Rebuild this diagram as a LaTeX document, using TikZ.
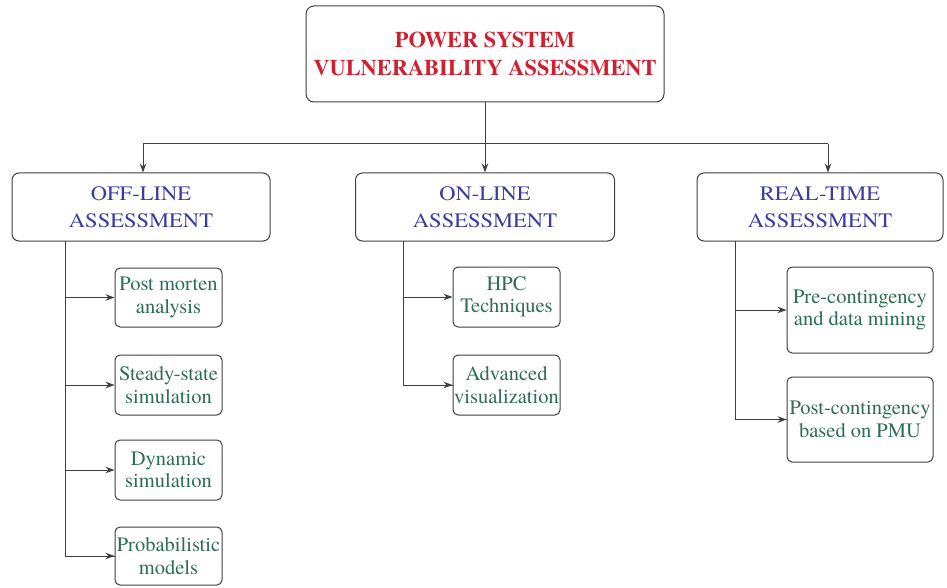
\documentclass[tikz,border=0pt]{standalone}
\usepackage{fontspec}
\setmainfont{TeX Gyre Termes}
\newfontfamily\headfont[FakeStretch=1.1]{TeX Gyre Termes}
\usetikzlibrary{arrows.meta}
\definecolor{titlered}{HTML}{D02030}
\definecolor{headblue}{HTML}{3C3CA0}
\definecolor{subgreen}{HTML}{2E6E52}
\definecolor{linegray}{HTML}{404040}
\tikzset{
  topbox/.style={draw=linegray, line width=1pt, rounded corners=8pt, minimum width=358pt, minimum height=96pt, inner sep=0pt, align=center, text=titlered, font=\fontsize{22.4}{27.5}\selectfont\bfseries},
  headbox/.style={draw=linegray, line width=1pt, rounded corners=7pt, minimum height=68pt, inner sep=0pt, align=center, text=headblue, font=\headfont\fontsize{20.5}{26.5}\selectfont},
  subbox/.style={draw=linegray, line width=1pt, rounded corners=5pt, inner sep=0pt, align=center, text=subgreen, font=\fontsize{20.5}{22.5}\selectfont},
  conn/.style={draw=linegray, line width=1pt},
  arr/.style={conn, -{Stealth[length=9pt,width=6.5pt]}}
}
\begin{document}
\begin{tikzpicture}[x=1pt,y=-1pt]
\useasboundingbox[fill=white] (0,0) rectangle (947,588);
% main boxes
\node[topbox] (top) at (485,54) {POWER SYSTEM\\VULNERABILITY ASSESSMENT};
\node[headbox, minimum width=258pt] (off) at (141,207) {OFF-LINE\\ASSESSMENT};
\node[headbox, minimum width=259pt] (on) at (485,207) {ON-LINE\\ASSESSMENT};
\node[headbox, minimum width=246pt] (rt) at (820,207) {REAL-TIME\\ASSESSMENT};
% off-line sub boxes
\node[subbox, minimum width=107pt, minimum height=59pt] (a1) at (168.5,297.5) {Post morten\\analysis};
\node[subbox, minimum width=107pt, minimum height=60pt] (a2) at (168.5,385) {Steady-state\\simulation};
\node[subbox, minimum width=107pt, minimum height=60pt] (a3) at (168.5,470) {Dynamic\\simulation};
\node[subbox, minimum width=107pt, minimum height=58pt] (a4) at (168.5,556) {Probabilistic\\models};
% on-line sub boxes
\node[subbox, minimum width=107pt, minimum height=60pt] (b1) at (506.5,297) {HPC\\Techniques};
\node[subbox, minimum width=107pt, minimum height=60pt] (b2) at (506.5,385) {Advanced\\visualization};
% real-time sub boxes
\node[subbox, minimum width=146pt, minimum height=86pt] (c1) at (860,310) {Pre-contingency\\and data mining};
\node[subbox, minimum width=146pt, minimum height=85pt] (c2) at (860,419.5) {Post-contingency\\based on PMU};
% bus
\coordinate (bus) at (485,144);
\coordinate (busL) at (143,144);
\coordinate (busR) at (828,144);
\draw[conn] (top.south) -- (bus);
\draw[conn] (busL) -- (busR);
\draw[arr] (bus) -- (on.north);
\draw[arr] (busL) -- (busL |- off.north);
\draw[arr] (busR) -- (busR |- rt.north);
% off-line trunk
\coordinate (offT) at (65,241);
\draw[conn] (offT) |- (a4.west);
\draw[arr] (offT |- a1.west) -- (a1.west);
\draw[arr] (offT |- a2.west) -- (a2.west);
\draw[arr] (offT |- a3.west) -- (a3.west);
\draw[arr] (offT |- a4.west) -- (a4.west);
% on-line trunk
\coordinate (onT) at (403,241);
\draw[conn] (onT) |- (b2.west);
\draw[arr] (onT |- b1.west) -- (b1.west);
\draw[arr] (onT |- b2.west) -- (b2.west);
% real-time trunk
\coordinate (rtT) at (735,241);
\draw[conn] (rtT) |- (c2.west);
\draw[arr] (rtT |- c1.west) -- (c1.west);
\draw[arr] (rtT |- c2.west) -- (c2.west);
\end{tikzpicture}
\end{document}
